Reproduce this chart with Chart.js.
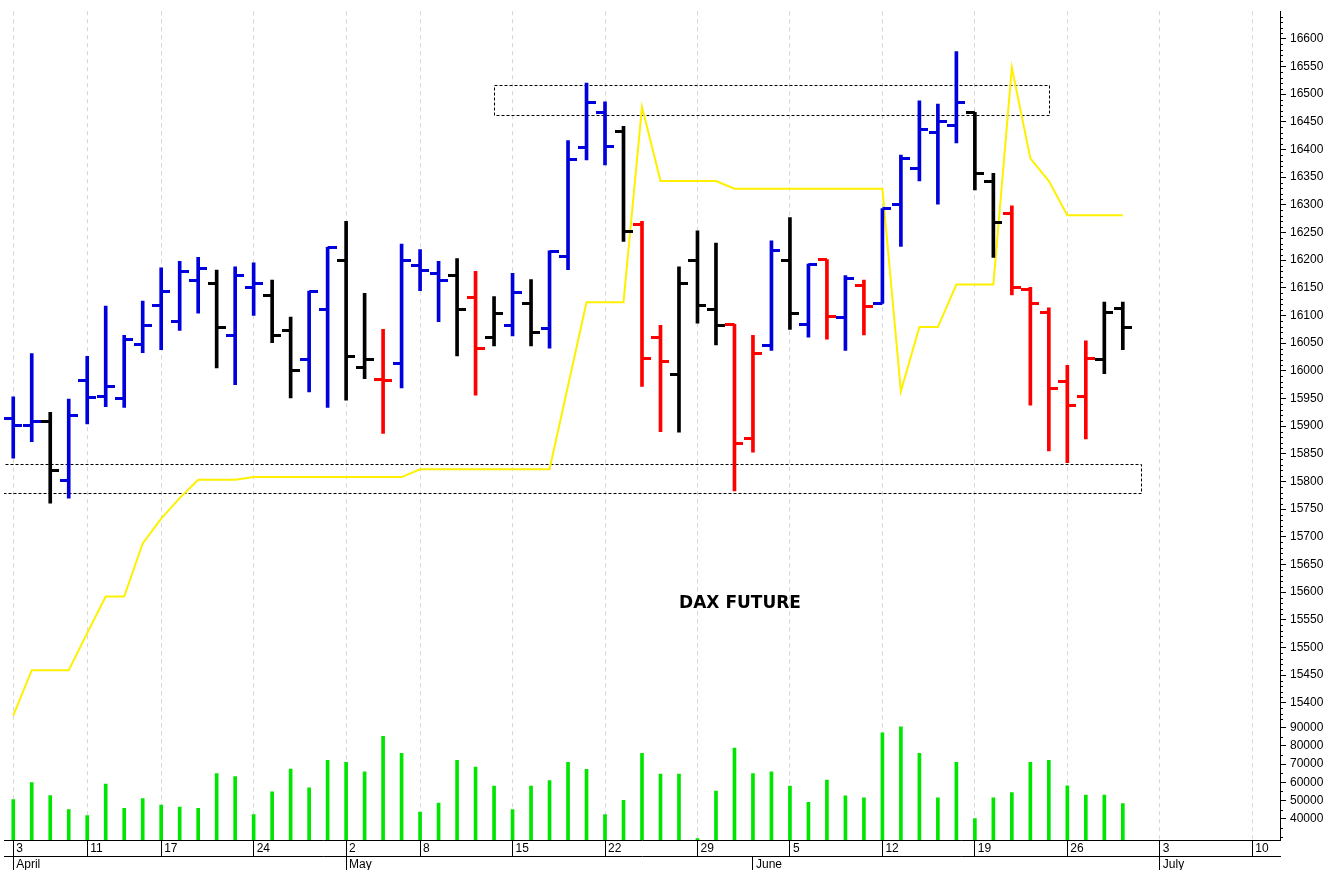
<!DOCTYPE html>
<html>
<head>
<meta charset="utf-8">
<title>DAX Future</title>
<script src="https://cdn.jsdelivr.net/npm/chart.js@4.4.0/dist/chart.umd.min.js"></script>
<style>
  html, body { margin: 0; padding: 0; background: #fff; }
  #wrap { width: 1328px; height: 870px; }
</style>
</head>
<body>
<div id="wrap"><canvas id="chart" width="1328" height="870"></canvas></div>
<script>
// daily bars, index 0 = 3 April (trading days only)
const OPEN = [
  15913, 15901, 15908, 15801, 15983, 15954, 15950, 16048, 16118, 16089,
  16163, 16158, 16063, 16151, 16136, 16072, 16020, 16111, 16199, 16006,
  15984, 16013, 16191, 16176, 16173, 16132, 16061, 16082, 16122, 16077,
  16207, 16403, 16467, 16432, 16265, 16061, 15993, 16200, 16110, 16084,
  15877, 16045, 16200, 16083, 16201, 16097, 16154, 16122, 16300, 16366,
  16430, 16444, 16467, 16343, 16284, 16147, 16105, 15981, 15954, 16020, 16113
];
const HIGH = [
  15953, 16031, 15925, 15949, 16026, 16117, 16064, 16126, 16186, 16198,
  16205, 16182, 16188, 16195, 16164, 16097, 16144, 16223, 16270, 16140,
  16075, 16229, 16219, 16198, 16203, 16180, 16134, 16176, 16165, 16217,
  16416, 16520, 16486, 16442, 16270, 16082, 16188, 16253, 16231, 16084,
  16064, 16235, 16277, 16193, 16201, 16172, 16164, 16293, 16390, 16488,
  16482, 16577, 16467, 16357, 16298, 16151, 16114, 16010, 16054, 16124, 16124
];
const LOW = [
  15842, 15872, 15761, 15770, 15904, 15935, 15934, 16033, 16038, 16073,
  16104, 16005, 15975, 16100, 16051, 15951, 15962, 15934, 15947, 15986,
  15887, 15969, 16145, 16089, 16027, 15956, 16045, 16063, 16045, 16041,
  16183, 16381, 16372, 16234, 15972, 15890, 15889, 16086, 16047, 15783,
  15853, 16037, 16075, 16061, 16057, 16037, 16065, 16122, 16225, 16343,
  16301, 16412, 16327, 16205, 16137, 15938, 15855, 15834, 15877, 15995, 16038
];
const CLOSE = [
  15901, 15908, 15820, 15920, 15952, 15972, 16056, 16082, 16144, 16180,
  16185, 16078, 16172, 16158, 16063, 16001, 16144, 16222, 16025, 16020,
  15983, 16199, 16182, 16164, 16111, 16040, 16104, 16141, 16069, 16216,
  16382, 16484, 16405, 16252, 16023, 16017, 16157, 16118, 16082, 15868,
  16032, 16218, 16103, 16192, 16099, 16167, 16117, 16293, 16384, 16436,
  16451, 16485, 16357, 16268, 16151, 16121, 15968, 15937, 16023, 16106, 16078
];
// b = blue, k = black, r = red
const BAR_COLOR = [
  'b','b','k','b','b','b','b','b','b','b',
  'b','k','b','b','k','k','b','b','k','k',
  'r','b','b','b','k','r','k','b','k','b',
  'b','b','b','k','r','r','k','k','k','r',
  'r','b','k','b','r','b','r','b','b','b',
  'b','b','k','k','r','r','r','r','r','k','k'
];
const YELLOW = [
  15377, 15459, 15459, 15459, 15526, 15592, 15592, 15688, 15733, 15770,
  15803, 15803, 15803, 15808, 15808, 15808, 15808, 15808, 15808, 15808,
  15808, 15808, 15822, 15822, 15822, 15822, 15822, 15822, 15822, 15822,
  15973, 16124, 16124, 16124, 16477, 16343, 16343, 16343, 16343, 16329,
  16329, 16329, 16329, 16329, 16329, 16329, 16329, 16329, 15963, 16079,
  16079, 16156, 16156, 16156, 16548, 16384, 16343, 16281, 16281, 16281, 16281
];
const VOLUME = [
  50500, 59900, 52700, 45000, 41600, 59000, 45600, 51000, 47400, 46300,
  45600, 64800, 63200, 42200, 54700, 67300, 56900, 72100, 71000, 65700,
  85300, 75900, 43600, 48500, 72100, 68400, 57900, 44900, 57900, 61000,
  71000, 67200, 42200, 50100, 75900, 64500, 64500, 29000, 55200, 78900,
  64800, 65700, 57900, 49000, 61200, 52500, 51400, 87300, 90500, 75900,
  51400, 71000, 40000, 51400, 54300, 71000, 72100, 58100, 53000, 53000, 48300
];

const WEEK_IDX = [0, 4, 8, 13, 18, 22, 27, 32, 37, 42, 47, 52, 57, 62, 67];
const WEEK_LABELS = ['3', '11', '17', '24', '2', '8', '15', '22', '29', '5', '12', '19', '26', '3', '10'];
const MONTH_IDX = [0, 18, 40, 62];
const MONTH_LABELS = ['April', 'May', 'June', 'July'];
const PRICE_TICKS = [
  15400, 15450, 15500, 15550, 15600, 15650, 15700, 15750, 15800, 15850, 15900, 15950, 16000,
  16050, 16100, 16150, 16200, 16250, 16300, 16350, 16400, 16450, 16500, 16550, 16600
];
const VOL_TICKS = [40000, 50000, 60000, 70000, 80000, 90000];

// dotted support / resistance boxes
const ZONE_FROM = [26, -1];
const ZONE_TO = [56, 61];
const ZONE_LO = [16463, 15780];
const ZONE_HI = [16516, 15832];

const PRICE_MIN = 15369.6, PRICE_MAX = 16649.9;
const VOL_MIN = 28207, VOL_MAX = 94511;

const COLORS = { b: '#0000dd', k: '#000000', r: '#ff0000' };
const FONT = '"Liberation Sans", Arial, sans-serif';
const TICK_LEN = 9;

function tickImage(color, side) {
  const c = document.createElement('canvas');
  c.width = TICK_LEN * 2;
  c.height = 3;
  const g = c.getContext('2d');
  g.fillStyle = color;
  g.fillRect(side === 'left' ? 0 : TICK_LEN, 0, TICK_LEN, 3);
  return c;
}
const OPEN_IMG = {}, CLOSE_IMG = {};
Object.keys(COLORS).forEach(k => {
  OPEN_IMG[k] = tickImage(COLORS[k], 'left');
  CLOSE_IMG[k] = tickImage(COLORS[k], 'right');
});

const idx = OPEN.map((_, i) => i);

const overlay = {
  id: 'overlay',
  beforeDatasetsDraw(chart) {
    const { ctx, chartArea: a } = chart;
    const xs = chart.scales.x, ys = chart.scales.y;
    ctx.save();
    ctx.beginPath();
    ctx.rect(a.left, a.top, a.right - a.left, a.bottom - a.top);
    ctx.clip();
    ctx.strokeStyle = '#000';
    ctx.lineWidth = 1;
    ctx.setLineDash([3, 2]);
    ZONE_FROM.forEach((f, k) => {
      const x1 = Math.round(xs.getPixelForValue(f)) + 0.5;
      const x2 = Math.round(xs.getPixelForValue(ZONE_TO[k])) + 0.5;
      const y1 = Math.round(ys.getPixelForValue(ZONE_HI[k])) + 0.5;
      const y2 = Math.round(ys.getPixelForValue(ZONE_LO[k])) + 0.5;
      ctx.strokeRect(x1, y1, x2 - x1, y2 - y1);
    });
    ctx.setLineDash([]);
    ctx.fillStyle = '#000';
    ctx.font = 'bold 17px "DejaVu Sans", Verdana, sans-serif';
    ctx.textAlign = 'center';
    ctx.textBaseline = 'middle';
    ctx.fillText('DAX FUTURE', xs.getPixelForValue(39.3), ys.getPixelForValue(15580));
    ctx.restore();
  },
  afterDraw(chart) {
    // minor ticks on the right axis
    const { ctx } = chart;
    const ys = chart.scales.y, yv = chart.scales.yv;
    ctx.save();
    ctx.strokeStyle = '#000';
    ctx.lineWidth = 1;
    ctx.beginPath();
    for (let v = Math.ceil(ys.min / 10) * 10; v <= ys.max; v += 10) {
      if (v % 50 === 0) continue;
      const py = Math.round(ys.getPixelForValue(v)) + 0.5;
      ctx.moveTo(ys.left, py);
      ctx.lineTo(ys.left + 3, py);
    }
    for (let v = Math.ceil(yv.min / 5000) * 5000; v <= yv.max; v += 5000) {
      if (v % 10000 === 0 && v >= 40000) continue;
      const py = Math.round(yv.getPixelForValue(v)) + 0.5;
      ctx.moveTo(yv.left, py);
      ctx.lineTo(yv.left + 3, py);
    }
    ctx.stroke();
    ctx.restore();
  }
};

new Chart(document.getElementById('chart'), {
  type: 'bar',
  data: {
    datasets: [
      {
        type: 'line', label: 'Open', showLine: false, yAxisID: 'y',
        data: idx.map(i => ({ x: i, y: OPEN[i] })),
        pointStyle: c => OPEN_IMG[BAR_COLOR[c.dataIndex]],
        pointRadius: 3, pointHoverRadius: 3
      },
      {
        type: 'line', label: 'Close', showLine: false, yAxisID: 'y',
        data: idx.map(i => ({ x: i, y: CLOSE[i] })),
        pointStyle: c => CLOSE_IMG[BAR_COLOR[c.dataIndex]],
        pointRadius: 3, pointHoverRadius: 3
      },
      {
        type: 'bar', label: 'Range', yAxisID: 'y', grouped: false,
        data: idx.map(i => ({ x: i, y: [LOW[i], HIGH[i]] })),
        backgroundColor: c => COLORS[BAR_COLOR[c.dataIndex]],
        barThickness: 3, borderWidth: 0
      },
      {
        type: 'line', label: 'Signal', yAxisID: 'y',
        data: idx.map(i => ({ x: i, y: YELLOW[i] })),
        borderColor: '#fff000', borderWidth: 2, pointRadius: 0, tension: 0, fill: false
      },
      {
        type: 'bar', label: 'Volume', yAxisID: 'yv', grouped: false,
        data: idx.map(i => ({ x: i, y: VOLUME[i] })),
        backgroundColor: '#00e600', barThickness: 3, borderWidth: 0
      }
    ]
  },
  options: {
    responsive: false,
    animation: false,
    events: [],
    layout: { padding: 0 },
    plugins: { legend: { display: false }, tooltip: { enabled: false } },
    scales: {
      x: {
        type: 'linear', position: 'bottom', min: -0.5, max: 68.5, bounds: 'data', offset: false,
        afterBuildTicks: s => { s.ticks = WEEK_IDX.map(v => ({ value: v })); },
        afterFit: s => { s.height = 16; },
        ticks: {
          autoSkip: false, maxRotation: 0, align: 'start', labelOffset: 3, padding: -15,
          color: '#000', font: { family: FONT, size: 12 },
          callback: (v, i) => WEEK_LABELS[i]
        },
        grid: { offset: false, color: '#d6d6d6', tickLength: 16, tickColor: '#000', tickBorderDash: [] },
        border: { color: '#000', dash: [4, 4] }
      },
      x2: {
        type: 'linear', axis: 'x', position: 'bottom', min: -0.5, max: 68.5, bounds: 'data', offset: false,
        afterBuildTicks: s => { s.ticks = MONTH_IDX.map(v => ({ value: v })); },
        afterFit: s => { s.height = 14; },
        ticks: {
          autoSkip: false, maxRotation: 0, align: 'start', labelOffset: 3, padding: -13,
          color: '#000', font: { family: FONT, size: 12 },
          callback: (v, i) => MONTH_LABELS[i]
        },
        grid: { offset: false, drawOnChartArea: false, tickLength: 14, tickColor: '#000' },
        border: { color: '#000' }
      },
      y: {
        type: 'linear', position: 'right', stack: 'right', stackWeight: 718,
        min: PRICE_MIN, max: PRICE_MAX, bounds: 'data',
        afterBuildTicks: s => { s.ticks = PRICE_TICKS.map(v => ({ value: v })); },
        afterFit: s => { s.width = 48; },
        ticks: { autoSkip: false, padding: 4, color: '#000', font: { family: FONT, size: 12 }, callback: v => String(v) },
        grid: { drawOnChartArea: false, tickLength: 6, tickColor: '#000' },
        border: { color: '#000' }
      },
      yv: {
        type: 'linear', position: 'right', stack: 'right', stackWeight: 122,
        min: VOL_MIN, max: VOL_MAX, bounds: 'data',
        afterBuildTicks: s => { s.ticks = VOL_TICKS.map(v => ({ value: v })); },
        afterFit: s => { s.width = 48; },
        ticks: { autoSkip: false, padding: 4, color: '#000', font: { family: FONT, size: 12 }, callback: v => String(v) },
        grid: { drawOnChartArea: false, tickLength: 6, tickColor: '#000' },
        border: { color: '#000' }
      }
    }
  },
  plugins: [overlay]
});
</script>
</body>
</html>
